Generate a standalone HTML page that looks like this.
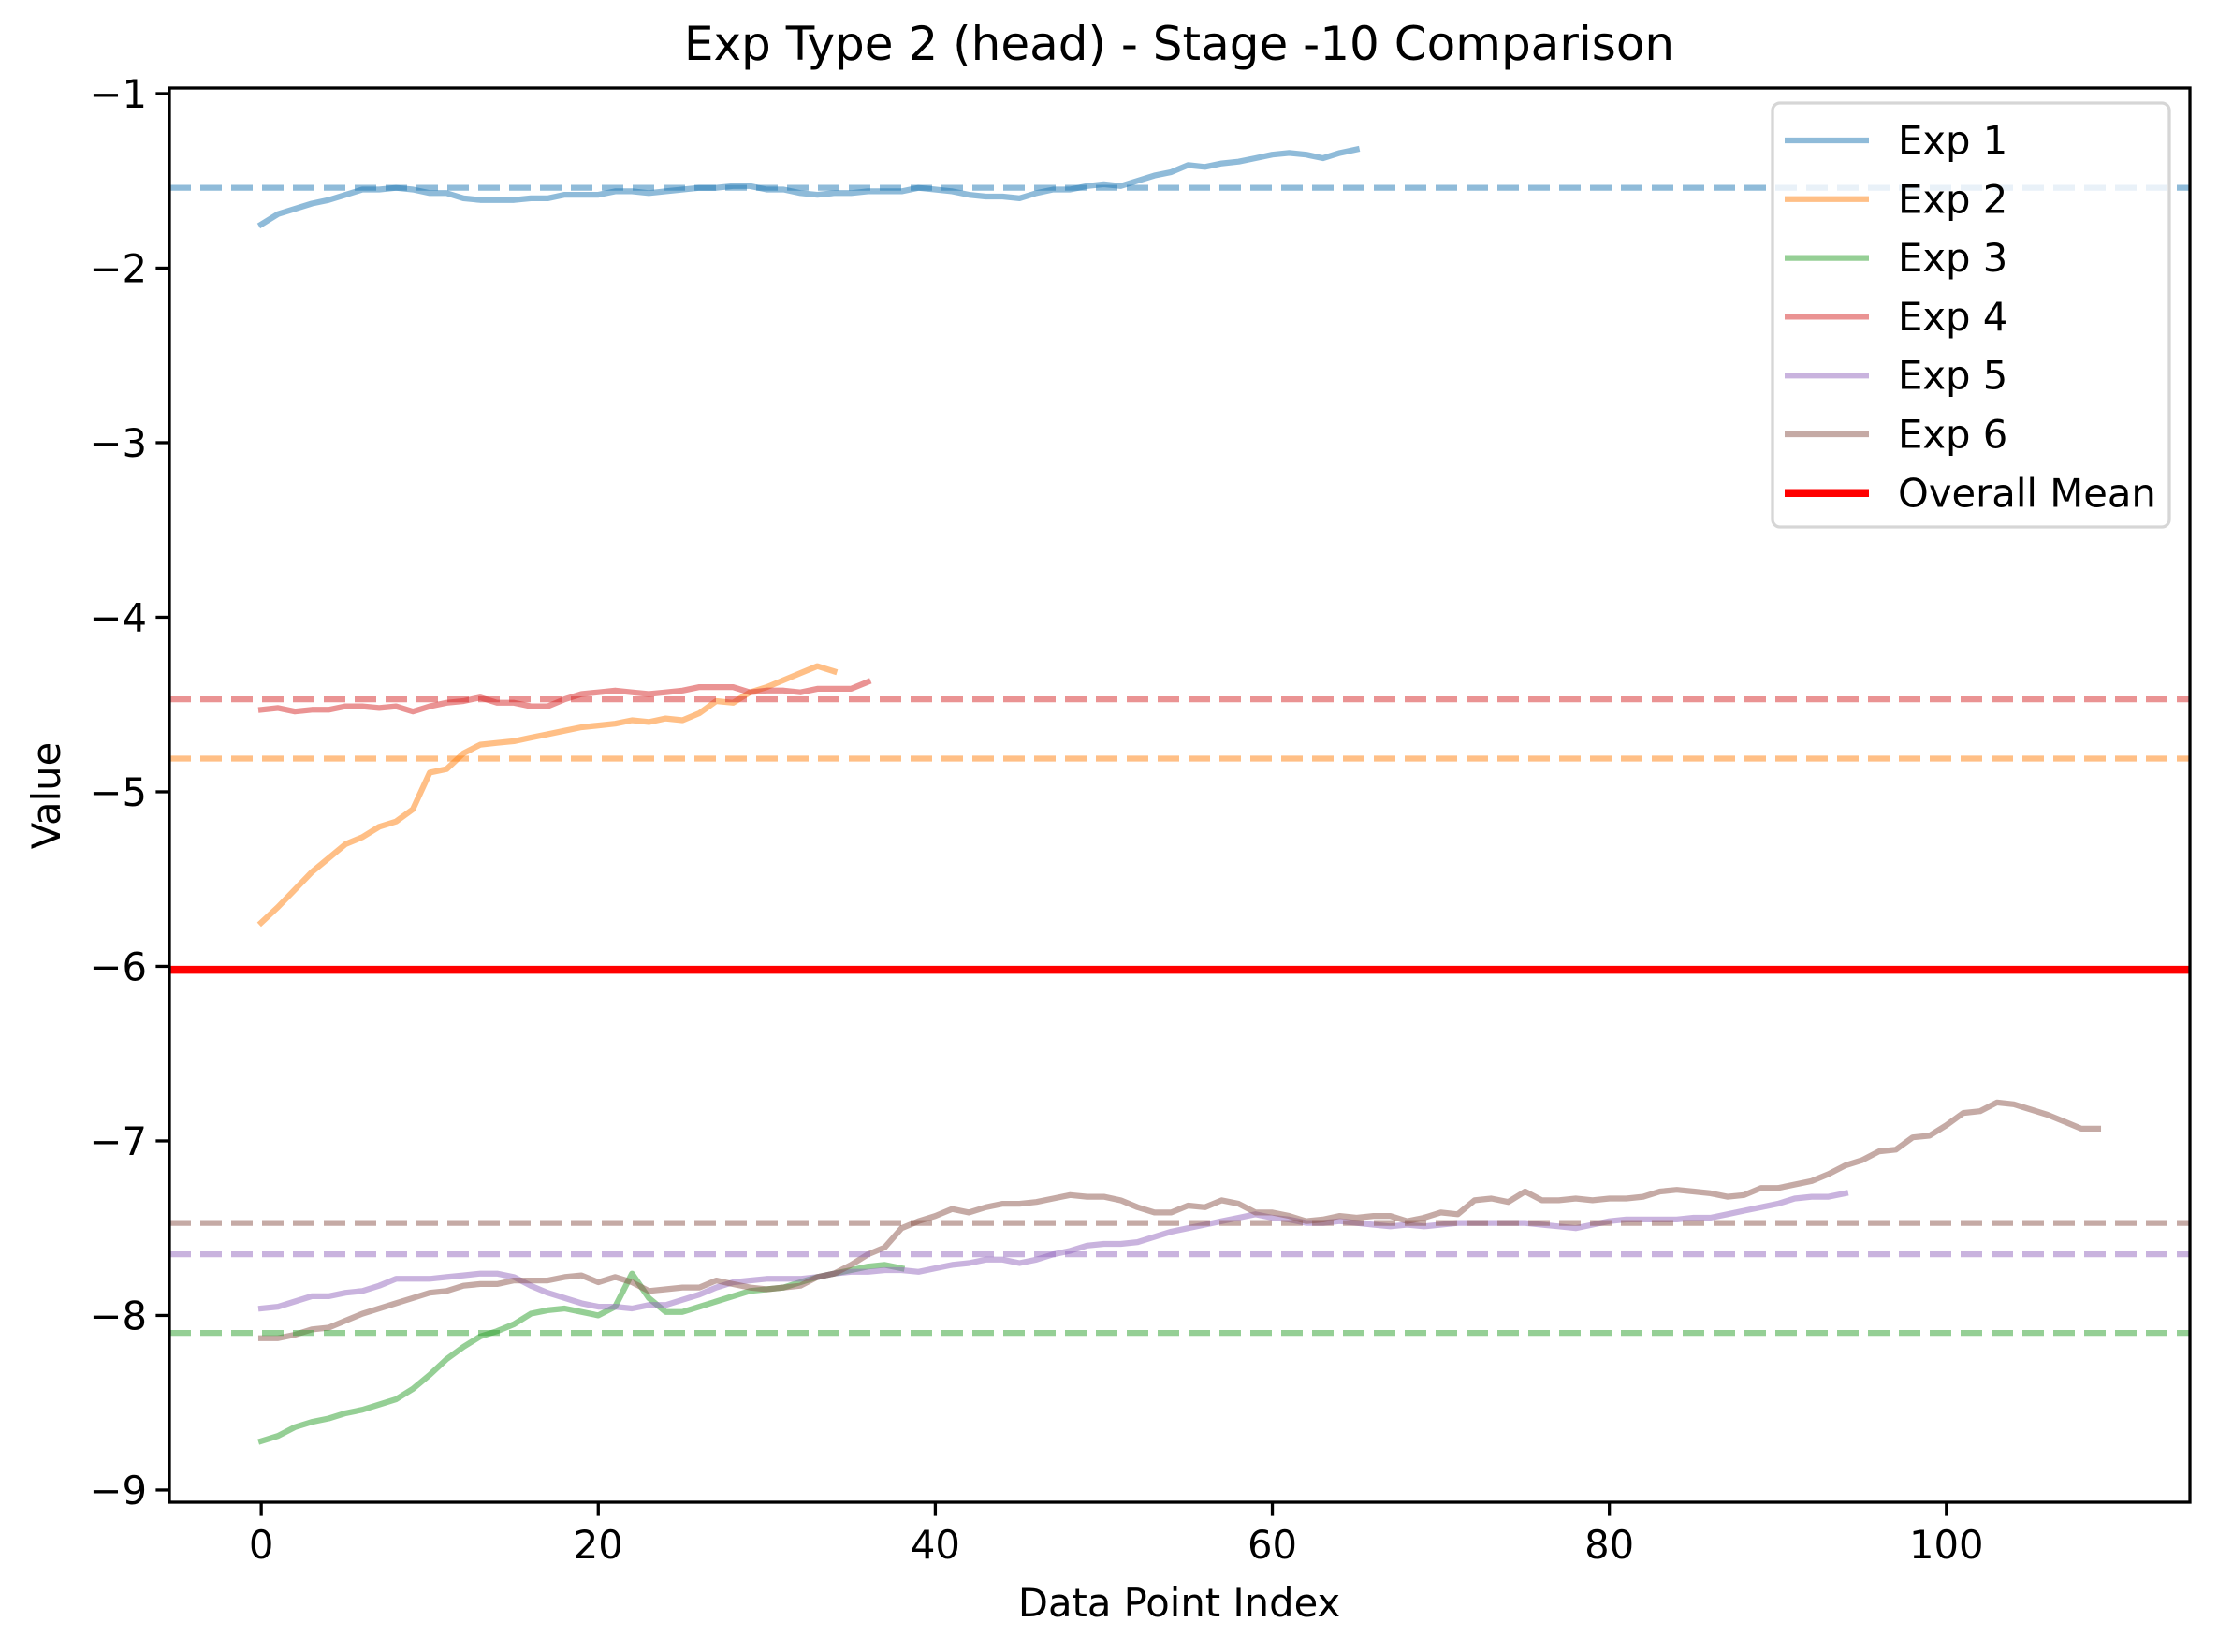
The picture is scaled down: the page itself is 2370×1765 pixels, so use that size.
<!DOCTYPE html>
<html><head><meta charset="utf-8"><style>
html,body{margin:0;padding:0;background:#fff;}
svg{display:block;font-family:"DejaVu Sans","Liberation Sans",sans-serif;}
</style></head><body>
<svg id="chart" width="2370" height="1765" viewBox="0 0 2370 1765" xmlns="http://www.w3.org/2000/svg">
<rect width="2370" height="1765" fill="#fff"/>
<text x="1260" y="64" font-size="50" text-anchor="middle">Exp Type 2 (head) - Stage -10 Comparison</text>
<g id="plot"></g>
<text x="1260" y="1727" font-size="41.7" text-anchor="middle">Data Point Index</text>
<text transform="translate(64,850) rotate(-90)" font-size="41.7" text-anchor="middle">Value</text>
<g id="legend"></g>
</svg>
<script>
const seriesNames = ["Exp 1","Exp 2","Exp 3","Exp 4","Exp 5","Exp 6"];
const seriesColors = ["#1f77b4","#ff7f0e","#2ca02c","#d62728","#9467bd","#8c564b"];
const exp1 = [-1.75,-1.69,-1.66,-1.63,-1.61,-1.58,-1.55,-1.55,-1.54,-1.55,
-1.57,-1.57,-1.60,-1.61,-1.61,-1.61,-1.60,-1.60,-1.58,-1.58,
-1.58,-1.56,-1.56,-1.57,-1.56,-1.55,-1.54,-1.54,-1.53,-1.53,
-1.55,-1.55,-1.57,-1.58,-1.57,-1.57,-1.56,-1.56,-1.56,-1.54,
-1.55,-1.56,-1.58,-1.59,-1.59,-1.60,-1.57,-1.55,-1.55,-1.53,
-1.52,-1.53,-1.50,-1.47,-1.45,-1.41,-1.42,-1.40,-1.39,-1.37,
-1.35,-1.34,-1.35,-1.37,-1.34,-1.32];
const exp2 = [-5.75,-5.66,-5.56,-5.46,-5.38,-5.30,-5.26,-5.20,-5.17,-5.10,-4.89,-4.87,-4.78,-4.73,-4.72,-4.71,-4.69,-4.67,-4.65,-4.63,-4.62,-4.61,-4.59,-4.60,-4.58,-4.59,-4.55,-4.48,-4.49,-4.43,-4.40,-4.36,-4.32,-4.28,-4.31];
const exp3 = [-8.72,-8.69,-8.64,-8.61,-8.59,-8.56,-8.54,-8.51,-8.48,-8.42,-8.34,-8.25,-8.18,-8.12,-8.09,-8.05,-7.99,-7.97,-7.96,-7.98,-8.00,-7.95,-7.76,-7.90,-7.98,-7.98,-7.95,-7.92,-7.89,-7.86,-7.85,-7.84,-7.81,-7.78,-7.76,-7.74,-7.72,-7.71,-7.73];
const exp4 = [-4.53,-4.52,-4.54,-4.53,-4.53,-4.51,-4.51,-4.52,-4.51,-4.54,-4.51,-4.49,-4.48,-4.46,-4.49,-4.49,-4.51,-4.51,-4.47,-4.44,-4.43,-4.42,-4.43,-4.44,-4.43,-4.42,-4.40,-4.40,-4.40,-4.43,-4.42,-4.42,-4.43,-4.41,-4.41,-4.41,-4.37];
const exp5 = [-7.96,-7.95,-7.92,-7.89,-7.89,-7.87,-7.86,-7.83,-7.79,-7.79,
-7.79,-7.78,-7.77,-7.76,-7.76,-7.78,-7.83,-7.87,-7.90,-7.93,
-7.95,-7.95,-7.96,-7.94,-7.94,-7.91,-7.88,-7.84,-7.81,-7.80,
-7.79,-7.79,-7.79,-7.78,-7.76,-7.75,-7.75,-7.74,-7.74,-7.75,
-7.73,-7.71,-7.70,-7.68,-7.68,-7.70,-7.68,-7.65,-7.63,-7.60,
-7.59,-7.59,-7.58,-7.55,-7.52,-7.50,-7.48,-7.46,-7.44,-7.42,
-7.44,-7.45,-7.47,-7.47,-7.46,-7.47,-7.48,-7.49,-7.48,-7.49,
-7.48,-7.47,-7.47,-7.47,-7.47,-7.47,-7.48,-7.49,-7.50,-7.48,
-7.46,-7.45,-7.45,-7.45,-7.45,-7.44,-7.44,-7.42,-7.40,-7.38,
-7.36,-7.33,-7.32,-7.32,-7.30];
const exp6 = [-8.13,-8.13,-8.11,-8.08,-8.07,-8.03,-7.99,-7.96,-7.93,-7.90,
-7.87,-7.86,-7.83,-7.82,-7.82,-7.80,-7.80,-7.80,-7.78,-7.77,
-7.81,-7.78,-7.81,-7.86,-7.85,-7.84,-7.84,-7.80,-7.82,-7.84,
-7.85,-7.84,-7.83,-7.78,-7.76,-7.71,-7.65,-7.61,-7.50,-7.46,
-7.43,-7.39,-7.41,-7.38,-7.36,-7.36,-7.35,-7.33,-7.31,-7.32,
-7.32,-7.34,-7.38,-7.41,-7.41,-7.37,-7.38,-7.34,-7.36,-7.41,
-7.41,-7.43,-7.46,-7.45,-7.43,-7.44,-7.43,-7.43,-7.46,-7.44,
-7.41,-7.42,-7.34,-7.33,-7.35,-7.29,-7.34,-7.34,-7.33,-7.34,
-7.33,-7.33,-7.32,-7.29,-7.28,-7.29,-7.30,-7.32,-7.31,-7.27,
-7.27,-7.25,-7.23,-7.19,-7.14,-7.11,-7.06,-7.05,-6.98,-6.97,
-6.91,-6.84,-6.83,-6.78,-6.79,-6.82,-6.85,-6.89,-6.93,-6.93];
const seriesMeans = [-1.54,-4.81,-8.10,-4.47,-7.65,-7.47];
const overallMean = -6.02;
const xTicks = [0,20,40,60,80,100];
const yTicks = [-1,-2,-3,-4,-5,-6,-7,-8,-9];

const allSeries = [exp1,exp2,exp3,exp4,exp5,exp6];
const L=181,R=2340,T=94,B=1605;
const xMin=-5.45,xMax=114.45,yMin=-9.07,yMax=-0.968;
function X(v){return L+(v-xMin)/(xMax-xMin)*(R-L);}
function Y(v){return B-(v-yMin)/(yMax-yMin)*(B-T);}
const NS="http://www.w3.org/2000/svg";
const plot=document.getElementById('plot');
function mk(tag,attrs,parent){const e=document.createElementNS(NS,tag);for(const k in attrs)e.setAttribute(k,attrs[k]);(parent||plot).appendChild(e);return e;}

const clip=mk('clipPath',{id:'clp'});mk('rect',{x:L,y:T,width:R-L,height:B-T},clip);
const g=mk('g',{'clip-path':'url(#clp)'});
allSeries.forEach((s,i)=>{
  const pts=s.map((v,j)=>X(j).toFixed(1)+','+Y(v).toFixed(1)).join(' ');
  const pl=mk('polyline',{points:pts,fill:'none',stroke:seriesColors[i],'stroke-opacity':0.5,'stroke-width':6.25,'stroke-linejoin':'round','stroke-linecap':'square'},g);
  
  
});
seriesMeans.forEach((m,i)=>{
  const ln=mk('line',{x1:L,x2:R,y1:Y(m),y2:Y(m),stroke:seriesColors[i],'stroke-opacity':0.5,'stroke-width':6.25,'stroke-dasharray':'23 10'},g);
  
  
});
const om=mk('line',{x1:L,x2:R,y1:Y(overallMean),y2:Y(overallMean),stroke:'#ff0000','stroke-width':8.5},g);



const frame=mk('rect',{x:L,y:T,width:R-L,height:B-T,fill:'none',stroke:'#000','stroke-width':3.3});


xTicks.forEach(t=>{
  const x=X(t);
  const tk=mk('line',{x1:x,x2:x,y1:B,y2:B+14.6,stroke:'#000','stroke-width':3.3});
  
  
  const tx=mk('text',{x:x,y:B+60,'font-size':41.7,'text-anchor':'middle'});
  tx.textContent=String(t);
  
  
});
yTicks.forEach(t=>{
  const y=Y(t);
  const tk=mk('line',{x1:L-14.6,x2:L,y1:y,y2:y,stroke:'#000','stroke-width':3.3});
  
  
  const tx=mk('text',{x:L-24,y:y+15,'font-size':41.7,'text-anchor':'end'});
  tx.textContent='\u2212'+Math.abs(t);
  
  
});

const lg=document.getElementById('legend');
mk('rect',{x:1894,y:110,width:424,height:453,rx:8,fill:'#fff','fill-opacity':0.8,stroke:'#d6d6d6','stroke-width':3.3},lg);
const labels=seriesNames.concat(['Overall Mean']);
labels.forEach((n,i)=>{
  const y=150+i*62.8;
  const isMean=i===6;
  const sw=mk('line',{x1:1907,x2:1997,y1:y,y2:y,stroke:isMean?'#ff0000':seriesColors[i],'stroke-opacity':isMean?1:0.5,'stroke-width':isMean?8.5:6.25},lg);
  
  
  const tx=mk('text',{x:2028,y:y+14.5,'font-size':41.7},lg);
  tx.textContent=n;
  
  
});
</script>
</body></html>
